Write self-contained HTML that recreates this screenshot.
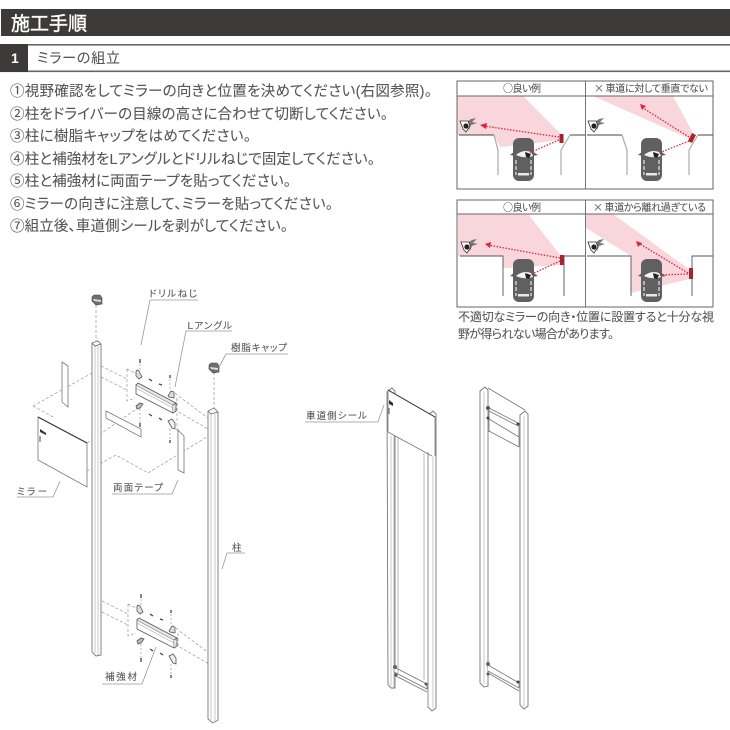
<!DOCTYPE html>
<html><head><meta charset="utf-8">
<style>
html,body{margin:0;padding:0;background:#fff}
svg{display:block}
text{font-family:"Liberation Sans","Noto Sans CJK JP",sans-serif;fill:#555;stroke:#555;stroke-width:.08;font-feature-settings:"palt"}
.h{font-family:"Noto Sans CJK JP",sans-serif}
</style></head><body>
<svg width="730" height="730" viewBox="0 0 730 730" xmlns="http://www.w3.org/2000/svg">
<defs>
<g id="car">
<rect x="513" y="138" width="21" height="43" rx="6" fill="#606060"/>
<path d="M510 155L515 151H532L538 155L532 156H515Z" fill="#606060"/>
<path d="M516 155Q523 149 531 152L533 156Q525 159 516 155Z" fill="#f4f4f4"/>
<path d="M525 152L531 154L529 158L526 157Z" fill="#222"/>
<path d="M516 160V175M531 160V175" stroke="#e8e8e8" stroke-width="1.200" stroke-dasharray="4 2" fill="none"/>
<rect x="518" y="173" width="11" height="2.500" fill="#e8e8e8"/>
</g>
<g id="person">
<path d="M467 122L471 119L476 118L472 122L477 123L471 125L469 130Z" fill="#777"/>
<path d="M460 121L468 121L470 126L466 132L463 129Z" fill="#fff" stroke="#333" stroke-width=".8"/>
<circle cx="466" cy="126" r="2.600" fill="#222"/>
</g>
<g id="bracket">
<path d="M136 385L173 405V413L136 394Z" fill="#fff" stroke="#555" stroke-width=".8"/>
<path d="M136 385L138 383L176 403L173 405M173 405L176 403V411L173 413" fill="#e4e4e4" stroke="#555" stroke-width=".8"/>
<path d="M136 388L173 408" stroke="#aaa" stroke-width=".6"/>
<path d="M136 372Q136 369 139 371L142 377L139 379L136 376Z" fill="#ddd" stroke="#555" stroke-width=".8"/>
<path d="M136 406L140 403L143 404L140 408L137 409Z" fill="#bbb" stroke="#555" stroke-width=".8"/>
<path d="M168 396L171 391L174 392V398L169 397Z" fill="#ddd" stroke="#555" stroke-width=".8"/>
<path d="M168 421L172 419L175 423V429L172 428Z" fill="#eee" stroke="#555" stroke-width=".8"/>
<g stroke="#444" stroke-width="1.300" fill="none">
<path d="M140 359V363M170 375V378M140 423V427M170 440V443"/>
<path d="M149 379L152 381M159 384L162 385M149 414L152 416M159 418L162 420"/>
</g>
<path d="M140 364V371M170 379V391M140 409V423M170 429V440" stroke="#999" stroke-width=".7" stroke-dasharray="2 2" fill="none"/>
<path d="M101 366L127 379M127 369V401L135 398M127 369L135 373M101 377L127 390M175 393L177 395L208 418M177 398V411L208 429M177 411L172 408" stroke="#999" stroke-width=".7" stroke-dasharray="3 2" fill="none"/>
</g>
</defs>

<!-- header -->
<rect x="1" y="9" width="729" height="27" fill="#3e3a39"/>
<text x="11" y="30" font-size="19" textLength="76" style="fill:#fff;stroke:#fff;stroke-width:.4">施工手順</text>
<rect x="0" y="44" width="730" height="1.600" fill="#666"/>
<rect x="0" y="70.500" width="730" height="1.600" fill="#666"/>
<rect x="0" y="44" width="28" height="28" fill="#3e3a39"/>
<text x="11" y="63" font-size="14" font-weight="bold" style="fill:#fff;stroke:none">1</text>
<text x="37" y="63" font-size="14" textLength="83">ミラーの組立</text>

<!-- steps -->
<g font-size="14.500">
<text x="10" y="96" textLength="422">①視野確認をしてミラーの向きと位置を決めてください(右図参照)。</text>
<text x="10" y="119" textLength="378">②柱をドライバーの目線の高さに合わせて切断してください。</text>
<text x="10" y="141" textLength="241">③柱に樹脂キャップをはめてください。</text>
<text x="10" y="164" textLength="365">④柱と補強材をLアングルとドリルねじで固定してください。</text>
<text x="10" y="186" textLength="281">⑤柱と補強材に両面テープを貼ってください。</text>
<text x="10" y="209" textLength="323">⑥ミラーの向きに注意して、ミラーを貼ってください。</text>
<text x="10" y="231" textLength="278">⑦組立後、車道側シールを剥がしてください。</text>
</g>

<!-- top panels -->
<polygon points="457,96 523,96 561,134 561,140 500,147 494,135 457,135" fill="#f9d5dc"/>
<polygon points="593,96 673,96 694,135 690,139" fill="#f9d5dc"/>
<g fill="none" stroke="#444" stroke-width=".9">
<path d="M459 135H494M570 135H585M587 135H622M698 135H713"/>
</g>
<g fill="none" stroke="#aaa" stroke-width="1.200">
<path d="M494 135L498 150V175M570 135L561 150V175M622 135L627 150V175M698 135L689 150V175"/>
</g>
<use href="#car"/>
<use href="#car" x="128"/>
<use href="#person"/>
<use href="#person" x="128"/>
<rect x="559.500" y="134" width="4" height="9" fill="#a4232e"/>
<polygon points="692,133 696,135 692,143 688,141" fill="#a4232e"/>
<path d="M559 137L484 126M559 140L529 153M689 137L643 108M689 141L659 153" stroke="#d8283c" stroke-width="1.300" stroke-dasharray="1.500 1.500" fill="none"/>
<polygon points="480,125 487,123 486,129" fill="#d8283c"/>
<polygon points="640,104 646,106 642,110" fill="#d8283c"/>
<rect x="457" y="81" width="256" height="108" fill="none" stroke="#666" stroke-width="1"/>
<path d="M457 96H713M585.500 81V189" stroke="#666" stroke-width=".9"/>
<text class="h" x="503" y="92" font-size="10" textLength="38">○良い例</text>
<text class="h" x="594" y="92" font-size="10" textLength="114">× 車道に対して垂直でない</text>

<!-- bottom panels -->
<polygon points="458,214 528,214 561,256 561,265 503,268 503,256 458,256" fill="#f9d5dc"/>
<polygon points="586,214 613,214 690,270 690,279 631,293 631,256 586,228" fill="#f9d5dc"/>
<path d="M460 256H503V296M564 296V256H585M587 256H631V296M692 296V256H713" fill="none" stroke="#555" stroke-width=".9"/>
<use href="#car" y="121"/>
<use href="#car" x="128" y="121"/>
<use href="#person" x="1" y="121"/>
<use href="#person" x="128" y="121"/>
<rect x="560" y="255" width="4" height="10" fill="#a4232e"/>
<rect x="689" y="268" width="4" height="11" fill="#a4232e"/>
<path d="M560 258L488 245M560 261L530 275M688 273L640 244M688 274L660 275" stroke="#d8283c" stroke-width="1.300" stroke-dasharray="1.500 1.500" fill="none"/>
<polygon points="485,244 491,242 490,248" fill="#d8283c"/>
<polygon points="636,241 642,243 638,247" fill="#d8283c"/>
<rect x="457" y="200" width="256" height="107" fill="none" stroke="#666" stroke-width="1"/>
<path d="M457 214H713M585.500 200V307" stroke="#666" stroke-width=".9"/>
<text class="h" x="503" y="211" font-size="10" textLength="38">○良い例</text>
<text class="h" x="593" y="211" font-size="10" textLength="113">× 車道から離れ過ぎている</text>
<text x="458" y="321" font-size="12" textLength="256">不適切なミラーの向き・位置に設置すると十分な視</text>
<text x="458" y="338" font-size="12" textLength="156">野が得られない場合があります。</text>

<!-- exploded view: dashes -->
<g fill="none" stroke="#999" stroke-width=".7" stroke-dasharray="3 2">
<path d="M33 406L92 373M33 406L55 418M87 443L138 408M87 471L116 455L148 473L210 435"/>
<path d="M96 305V342M214 372V408"/>
<path d="M177 398V432"/>
</g>
<use href="#bracket"/>
<use href="#bracket" x="1" y="235"/>

<!-- posts -->
<g fill="#fff" stroke="#777" stroke-width=".9">
<path d="M92 343L98 341L101 344V655L96 656L92 652Z"/>
<path d="M208 411L214 408L218 412V720L213 723L208 719Z"/>
</g>
<path d="M95 346V653M98 346V655M211 414V720M215 414V721" stroke="#c4c4c4" stroke-width=".9"/>
<path d="M92 343L95 346L101 344M208 411L211 414L218 412" fill="none" stroke="#666" stroke-width=".8"/>

<!-- caps -->
<path d="M92 297L94 295H100L102 298V304L96 305L92 301Z" fill="#6f6f6f" stroke="#444" stroke-width=".6"/>
<path d="M93 299L101 300V302L94 301Z" fill="#ddd"/>
<path d="M209 365L211 363H217L219 366V372L213 373L209 369Z" fill="#6f6f6f" stroke="#444" stroke-width=".6"/>
<path d="M210 367L218 368V370L211 369Z" fill="#ddd"/>

<!-- tapes & mirror -->
<polygon points="62,362 68,366 68,407 62,402" fill="#fff" stroke="#777" stroke-width=".8"/>
<polygon points="106,411 141,429 141,437 106,418" fill="#fff" stroke="#777" stroke-width=".8"/>
<polygon points="178,430 184,436 184,473 178,470" fill="#fff" stroke="#777" stroke-width=".8"/>
<polygon points="38,417 87,443 87,487 38,460" fill="#fff" stroke="#777" stroke-width=".8"/>
<path d="M38 417L87 443" stroke="#333" stroke-width="1"/>
<path d="M40 429L46 433V435L40 432Z" fill="#333"/>
<path d="M40 436V442" stroke="#888" stroke-width="1.500"/>

<!-- right assembled A -->
<g fill="#fff" stroke="#777" stroke-width=".9">
<path d="M387 392L392 388L395 391V688L391 688L388 685Z"/>
<path d="M428 415L433 411L436 414V708L432 711L428 707Z"/>
<path d="M394 667L427 684V689L394 672ZM394 675L427 692"/>
</g>
<path d="M391 436V686M433 456V708" stroke="#c4c4c4" stroke-width=".9"/>
<polygon points="388,390 435,417 435,456 388,432" fill="#fff"/>
<path d="M388 432V390L435 417V456M388 432L432 456" fill="none" stroke="#777" stroke-width=".8"/>
<path d="M388 390L435 417" fill="none" stroke="#333" stroke-width="1"/>
<path d="M394 435V688M428 455V708M398 437V673M424 453V680" fill="none" stroke="#999" stroke-width=".7"/>
<path d="M389 400L393 403V406L389 404Z" fill="#333"/>
<path d="M389 408V414" stroke="#777" stroke-width="1.300"/>
<circle cx="395" cy="667" r="2" fill="#666"/><circle cx="396" cy="675" r="1.500" fill="#555"/><circle cx="426" cy="684" r="1.500" fill="#555"/>

<!-- right assembled B -->
<g fill="#fff" stroke="#777" stroke-width=".9">
<path d="M480 391L485 387L488 390V686L484 687L480 683Z"/>
<path d="M520 415L525 411L528 414V706L524 709L520 705Z"/>
</g>
<path d="M484 392V684M524 416V706" stroke="#c4c4c4" stroke-width=".9"/>
<path d="M488 388L525 410M489 408L518 423M489 411L518 426M489 419L519 437M489 431L519 447M489 410V432M519 424V447" fill="none" stroke="#777" stroke-width=".8"/>
<path d="M488 665L519 683V688L488 671M488 673L519 691" fill="#fff" stroke="#777" stroke-width=".8"/>
<circle cx="488" cy="408" r="2" fill="#555"/><circle cx="518" cy="424" r="1.500" fill="#444"/><circle cx="488" cy="418" r="1.500" fill="#444"/>
<circle cx="488" cy="664" r="2" fill="#666"/><circle cx="488" cy="674" r="1.500" fill="#555"/><circle cx="518" cy="682" r="1.500" fill="#444"/>

<!-- labels -->
<g font-size="9.500">
<text x="149" y="297" textLength="48">ドリルねじ</text>
<text x="187" y="329" textLength="45">Ｌアングル</text>
<text x="231" y="351" textLength="56">樹脂キャップ</text>
<text x="17" y="495" textLength="30">ミラー</text>
<text x="113" y="491" textLength="50">両面テープ</text>
<text x="232" y="551" textLength="10">柱</text>
<text x="105" y="680" textLength="32">補強材</text>
<text x="306" y="419" textLength="61">車道側シール</text>
</g>
<g fill="none" stroke="#999" stroke-width=".8">
<path d="M198 300H150L141 345"/>
<path d="M232 331H186L175 387"/>
<path d="M288 354H226L219 367"/>
<path d="M17 497H53L60 481"/>
<path d="M112 494H172L178 480"/>
<path d="M245 553H227L222 569"/>
<path d="M102 684H142L156 647"/>
<path d="M305 422H378L384 405"/>
</g>
</svg>
</body></html>
